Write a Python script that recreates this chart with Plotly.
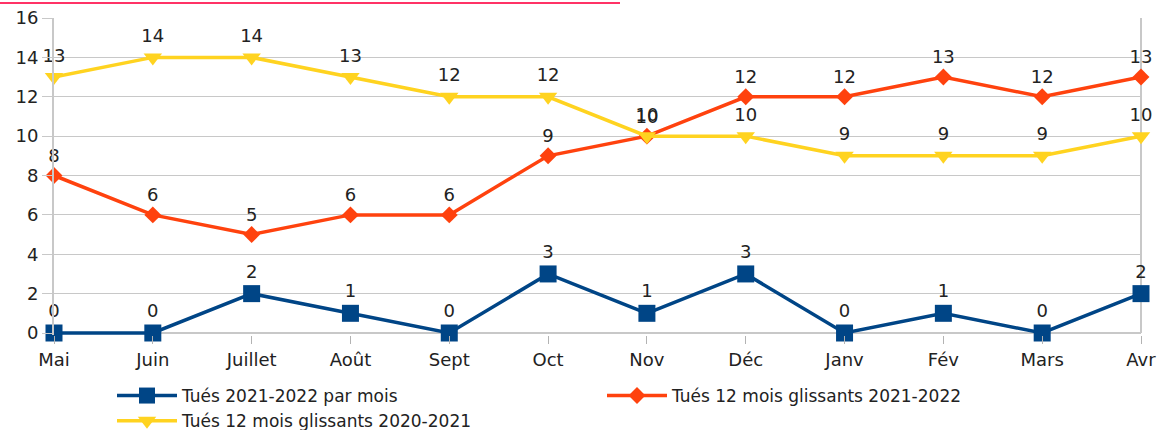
import plotly.graph_objects as go

months = ["Mai", "Juin", "Juillet", "Août", "Sept", "Oct", "Nov", "Déc", "Janv", "Fév", "Mars", "Avr"]
tues_mois = [0, 0, 2, 1, 0, 3, 1, 3, 0, 1, 0, 2]
glissants_2122 = [8, 6, 5, 6, 6, 9, 10, 12, 12, 13, 12, 13]
glissants_2021 = [13, 14, 14, 13, 12, 12, 10, 10, 9, 9, 9, 10]

names = ["Tués 2021-2022 par mois", "Tués 12 mois glissants 2021-2022", "Tués 12 mois glissants 2020-2021"]
colors = ["#004586", "#ff420e", "#ffd320"]
symbols = ["square", "diamond", "triangle-down"]
sizes = [17, 13, 16]

FONT = "DejaVu Sans, Liberation Sans, Arial, sans-serif"
TXT = "#222222"
x_idx = list(range(len(months)))

W, H = 1170, 430
ML, MR, MT, MB = 54, 29, 18, 0
PW, PH = W - ML - MR, H - MT - MB
ZERO_PIX, TOP_PIX = 333, 18
YMIN, YMAX = -0.12, 16
unit = (ZERO_PIX - TOP_PIX) / YMAX
BOTTOM_PIX = ZERO_PIX - YMIN * unit


def py(pix):
    return (H - MB - pix) / PH


def px(pix):
    return (pix - ML) / PW


fig = go.Figure()
for vals, name, col, sym, sz in zip([tues_mois, glissants_2122, glissants_2021], names, colors, symbols, sizes):
    fig.add_trace(go.Scatter(
        x=x_idx, y=vals, name=name, mode="lines+markers+text",
        text=[str(v) for v in vals], textposition="top center",
        textfont=dict(family=FONT, size=18, color=TXT),
        line=dict(color=col, width=3.5),
        marker=dict(symbol=sym, size=sz, color=col),
        cliponaxis=False,
    ))

fig.update_layout(
    width=W, height=H,
    margin=dict(l=ML, r=MR, t=MT, b=MB, autoexpand=False),
    plot_bgcolor="white", paper_bgcolor="white",
    font=dict(family=FONT, size=18, color=TXT),
    xaxis=dict(
        tickmode="array", tickvals=x_idx, ticktext=months,
        range=[0, 11], showgrid=False, zeroline=False,
        ticks="outside", ticklen=8, tickcolor="#b3b3b3", tickwidth=1,
        showline=False, automargin=False,
        tickfont=dict(family=FONT, size=18, color=TXT),
    ),
    yaxis=dict(
        range=[YMIN, YMAX], tickmode="array", tickvals=list(range(0, 17, 2)),
        showgrid=True, gridcolor="#c8c8c8", gridwidth=1,
        zeroline=False, ticks="outside", ticklen=10, tickcolor="#c8c8c8",
        showline=True, linecolor="#c8c8c8", linewidth=2, automargin=False,
        domain=[py(BOTTOM_PIX), 1],
        tickfont=dict(family=FONT, size=18, color=TXT),
    ),
    showlegend=True,
    legend=dict(
        orientation="h", x=px(112), xanchor="left", y=py(378), yanchor="top",
        entrywidth=415, entrywidthmode="pixels",
        font=dict(family=FONT, size=17, color=TXT),
        itemwidth=60, tracegroupgap=0,
    ),
)

# right frame line and line at zero
fig.add_shape(type="line", xref="paper", yref="y", x0=1, x1=1, y0=0, y1=YMAX,
              line=dict(color="#c8c8c8", width=2), layer="below")
fig.add_shape(type="line", xref="paper", yref="y", x0=0, x1=1, y0=0, y1=0,
              line=dict(color="#c8c8c8", width=2), layer="below")
# pink line at top of the image
fig.add_shape(type="line", xref="paper", yref="paper",
              x0=px(0), x1=px(620), y0=py(3), y1=py(3),
              line=dict(color="#ff3366", width=2))

fig.write_html("out.html", config={"displayModeBar": False},
               post_script="document.body.style.margin='0';")
